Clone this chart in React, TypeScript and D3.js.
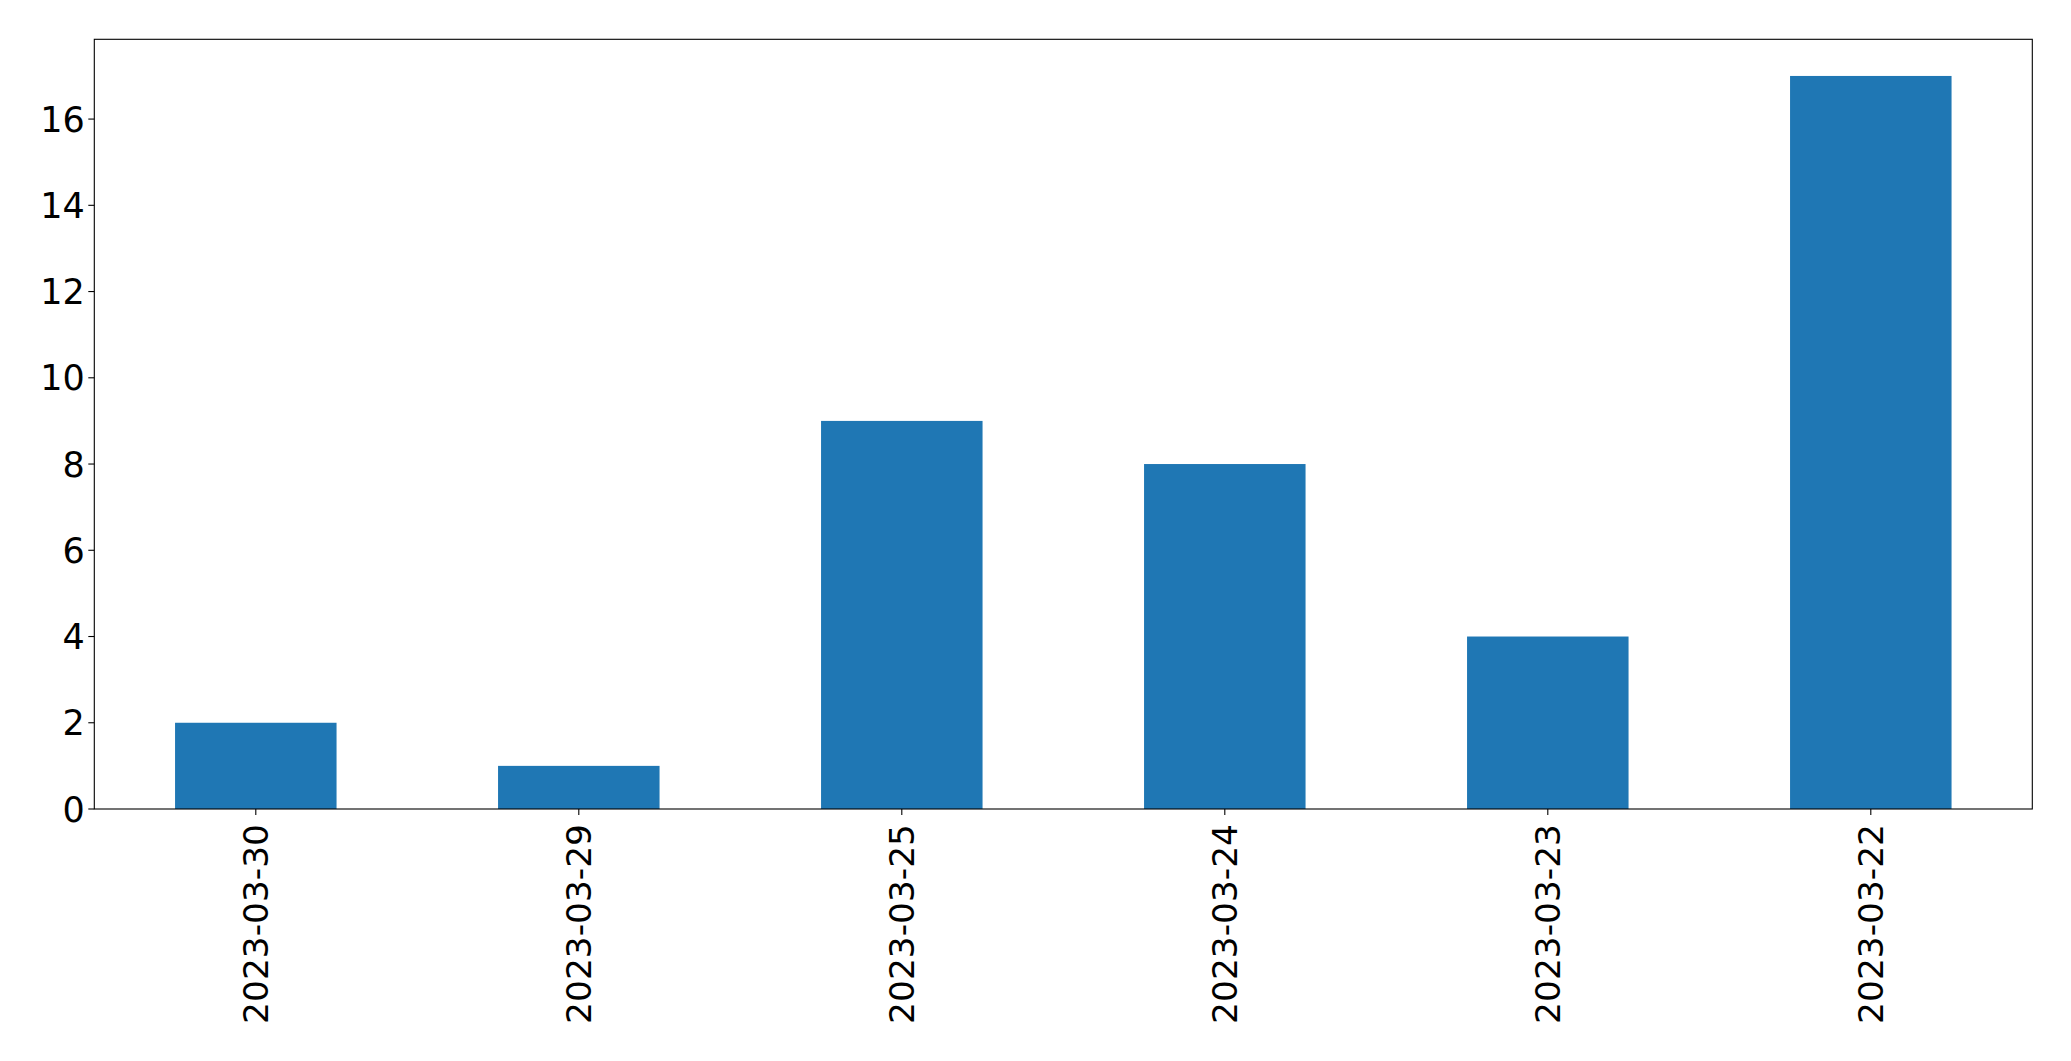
import React from "react";
import * as d3 from "d3";

const categories = ["2023-03-30", "2023-03-29", "2023-03-25", "2023-03-24", "2023-03-23", "2023-03-22"];
const values = [2, 1, 9, 8, 4, 17];
const yTicks = [0, 2, 4, 6, 8, 10, 12, 14, 16];

const W = 2071;
const H = 1061;
const M = { left: 94.3, top: 39.3, right: 2032.3, bottom: 809 };
const FONT = "'DejaVu Sans', sans-serif";
const FSY = 35;
const FSX = 34.4;

export default function App() {
  const x = d3.scaleBand<string>().domain(categories).range([M.left, M.right]).paddingInner(0.5).paddingOuter(0.25);
  const yMax = d3.max(values)! * 1.05;
  const y = d3.scaleLinear().domain([0, yMax]).range([M.bottom, M.top]);
  const bw = x.bandwidth();

  return (
    <svg width={W} height={H} style={{ position: "absolute", left: 0, top: 0, background: "#fff" }}>
      <rect x={0} y={0} width={W} height={H} fill="#fff" />
      {categories.map((c, i) => (
        <rect key={c} x={x(c)} y={y(values[i])} width={bw} height={y(0) - y(values[i])} fill="#1f77b4" />
      ))}
      <rect x={M.left} y={M.top} width={M.right - M.left} height={M.bottom - M.top} fill="none" stroke="#000" strokeWidth={1.1} />
      {yTicks.map((t) => (
        <g key={t}>
          <line x1={M.left - 6} x2={M.left} y1={y(t)} y2={y(t)} stroke="#000" strokeWidth={1.1} />
          <text x={M.left - 9.5} y={y(t)} dy="0.36em" textAnchor="end" fontFamily={FONT} fontSize={FSY} fill="#000">
            {t}
          </text>
        </g>
      ))}
      {categories.map((c) => {
        const cx = x(c)! + bw / 2;
        return (
          <g key={c}>
            <line x1={cx} x2={cx} y1={M.bottom} y2={M.bottom + 6} stroke="#000" strokeWidth={1.1} />
            <text
              transform={`translate(${cx},${M.bottom + 15}) rotate(-90)`}
              dy="0.36em"
              textAnchor="end"
              fontFamily={FONT}
              fontSize={FSX}
              fill="#000"
            >
              {c}
            </text>
          </g>
        );
      })}
    </svg>
  );
}
